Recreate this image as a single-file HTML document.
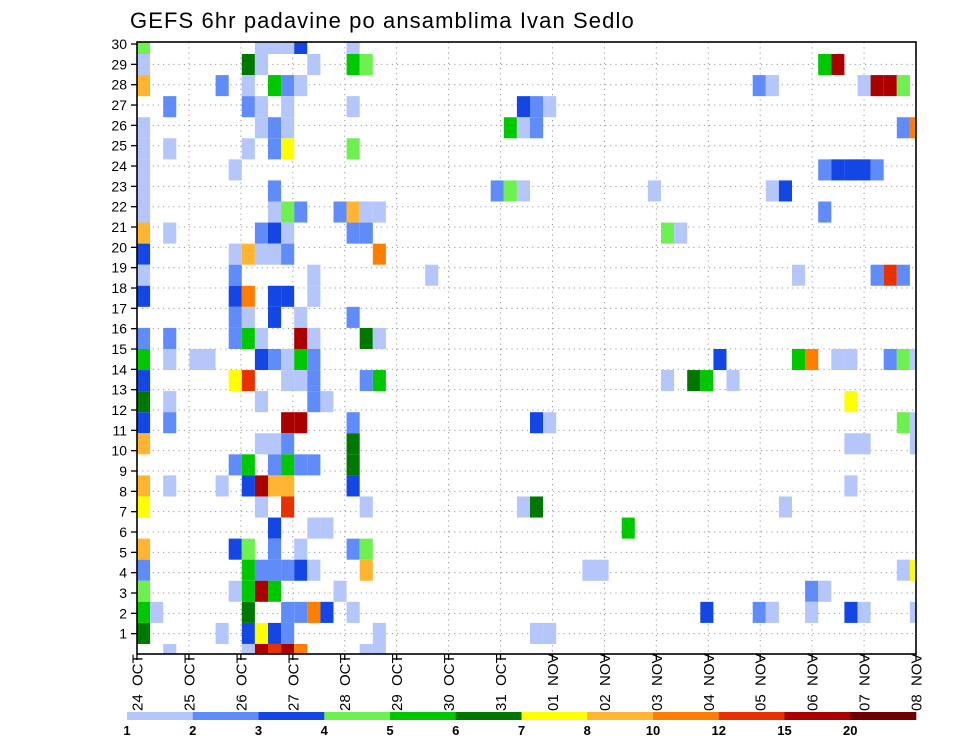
<!DOCTYPE html>
<html><head><meta charset="utf-8"><style>
html,body{margin:0;padding:0;background:#fff;}
svg{display:block;font-family:"Liberation Sans",sans-serif;}
</style></head><body>
<svg id="chart" width="960" height="742" viewBox="0 0 960 742" xmlns="http://www.w3.org/2000/svg">
<text x="130" y="28" font-size="22" letter-spacing="1.1" fill="#000">GEFS 6hr padavine po ansamblima Ivan Sedlo</text>
<g id="grid"></g>
<g id="cells"></g>
<rect x="137" y="42" width="779" height="612" fill="none" stroke="#000" stroke-width="1.6"/>
<g id="yaxis"></g>
<g id="xaxis"></g>
<g id="legend"></g>
</svg>
<script>
// ---- data ----
const dateLabels = ["24 OCT","25 OCT","26 OCT","27 OCT","28 OCT","29 OCT","30 OCT","31 OCT","01 NOV","02 NOV","03 NOV","04 NOV","05 NOV","06 NOV","07 NOV","08 NOV"];
const memberTicks = [1,2,3,4,5,6,7,8,9,10,11,12,13,14,15,16,17,18,19,20,21,22,23,24,25,26,27,28,29,30];
const levelLabels = ["1","2","3","4","5","6","7","8","10","12","15","20"];
const levelBounds = [1,2,3,4,5,6,7,8,10,12,15,20];
const levelColors = ["#b4c6fa","#5f8cf8","#1446e6","#6ef050","#00c800","#007800","#ffff00","#ffb432","#ff7d00","#e63200","#aa0000","#6e0000"];
// each cell: 6-hour step index, ensemble member index, precipitation (mm)
const cellStep = [
0,9,10,11,12,16,
0,8,9,13,16,17,52,53,
0,6,8,10,11,12,47,48,55,56,57,58,
2,8,9,11,16,29,30,31,
0,9,10,11,28,29,30,58,59,
0,2,8,10,11,16,
0,7,52,53,54,55,56,
0,10,27,28,29,39,48,49,
0,10,11,12,15,16,17,18,52,
0,2,9,10,11,16,17,40,41,
0,7,8,9,10,11,18,
0,7,13,22,50,56,57,58,
0,7,8,10,11,13,
7,8,10,12,16,
0,2,7,8,9,12,13,17,18,
0,2,4,5,9,10,11,12,13,44,50,51,53,54,57,58,59,
0,7,8,11,12,13,17,18,40,42,43,45,
0,2,9,13,14,54,
0,2,11,12,16,30,31,58,59,
0,9,10,11,16,54,55,59,
7,8,10,11,12,13,16,
0,2,6,8,9,10,11,16,54,
0,9,11,17,29,30,49,
10,13,14,37,
0,7,8,10,12,16,17,
0,8,9,10,11,12,13,17,34,35,58,59,
0,7,8,9,10,15,51,52,
0,1,8,11,12,13,14,16,43,47,48,51,54,55,59,
0,6,8,9,10,11,18,30,31,
2,8,9,10,11,12,17,18];
const cellMember = [
29,29,29,29,29,29,
28,28,28,28,28,28,28,28,
27,27,27,27,27,27,27,27,27,27,27,27,
26,26,26,26,26,26,26,26,
25,25,25,25,25,25,25,25,25,
24,24,24,24,24,24,
23,23,23,23,23,23,23,
22,22,22,22,22,22,22,22,
21,21,21,21,21,21,21,21,21,
20,20,20,20,20,20,20,20,20,
19,19,19,19,19,19,19,
18,18,18,18,18,18,18,18,
17,17,17,17,17,17,
16,16,16,16,16,
15,15,15,15,15,15,15,15,15,
14,14,14,14,14,14,14,14,14,14,14,14,14,14,14,14,14,
13,13,13,13,13,13,13,13,13,13,13,13,
12,12,12,12,12,12,
11,11,11,11,11,11,11,11,11,
10,10,10,10,10,10,10,10,
9,9,9,9,9,9,9,
8,8,8,8,8,8,8,8,8,
7,7,7,7,7,7,7,
6,6,6,6,
5,5,5,5,5,5,5,
4,4,4,4,4,4,4,4,4,4,4,4,
3,3,3,3,3,3,3,3,
2,2,2,2,2,2,2,2,2,2,2,2,2,2,2,
1,1,1,1,1,1,1,1,1,
0,0,0,0,0,0,0,0];
const cellPrecip = [
4.5,1.5,1.5,1.5,3.5,1.5,
1.5,6.5,1.5,1.5,5.5,4.5,5.5,17,
9,2.5,1.5,5.5,2.5,1.5,2.5,1.5,1.5,17,17,4.5,
2.5,2.5,1.5,1.5,1.5,3.5,2.5,1.5,
1.5,1.5,2.5,1.5,5.5,1.5,2.5,2.5,11,
1.5,1.5,1.5,2.5,7.5,4.5,
1.5,1.5,2.5,3.5,3.5,3.5,2.5,
1.5,2.5,2.5,4.5,1.5,1.5,1.5,3.5,
1.5,1.5,4.5,2.5,2.5,9,1.5,1.5,2.5,
9,1.5,2.5,3.5,1.5,2.5,2.5,4.5,1.5,
3.5,1.5,9,1.5,1.5,2.5,11,
1.5,2.5,1.5,1.5,1.5,2.5,13.5,2.5,
3.5,3.5,11,3.5,3.5,1.5,
2.5,1.5,3.5,1.5,2.5,
2.5,2.5,2.5,5.5,1.5,17,1.5,6.5,1.5,
5.5,1.5,1.5,1.5,3.5,2.5,1.5,5.5,2.5,3.5,5.5,11,1.5,1.5,2.5,4.5,1.5,
3.5,7.5,13.5,1.5,1.5,2.5,2.5,5.5,1.5,6.5,5.5,1.5,
6.5,1.5,1.5,2.5,1.5,7.5,
3.5,2.5,17,17,2.5,3.5,1.5,4.5,1.5,
9,1.5,1.5,2.5,6.5,1.5,1.5,1.5,
2.5,5.5,2.5,5.5,2.5,2.5,6.5,
9,1.5,1.5,3.5,17,9,9,3.5,1.5,
7.5,1.5,13.5,1.5,1.5,6.5,1.5,
3.5,1.5,1.5,5.5,
9,3.5,4.5,2.5,1.5,2.5,4.5,
2.5,5.5,2.5,2.5,2.5,3.5,1.5,9,1.5,1.5,1.5,7.5,
4.5,1.5,5.5,17,5.5,1.5,2.5,1.5,
5.5,1.5,6.5,2.5,2.5,11,3.5,1.5,3.5,2.5,1.5,1.5,3.5,1.5,1.5,
6.5,1.5,3.5,7.5,3.5,2.5,1.5,1.5,1.5,
1.5,1.5,17,13.5,17,11,1.5,1.5];

// ---- scales ----
const PL=137, PR=916, PT=42, PB=654;
const NS="http://www.w3.org/2000/svg";
const stepW = 13.1;          // cell width per 6-hour step
const memH = 21.07;          // cell height per member
function stepX(i){ return PL + i*stepW; }
function memberY(j){ return 654.5 - j*memH; }       // cell center
function dayX(d){ return PL + d*(PR-PL)/(dateLabels.length-1); }
function tickY(m){ return PB - m*(PB-PT)/30.1; }
function colorFor(v){
  let k=-1;
  for(let i=0;i<levelBounds.length;i++){ if(v>=levelBounds[i]) k=i; }
  return k<0?null:levelColors[k];
}
function mk(tag, attrs, parent){
  const e=document.createElementNS(NS,tag);
  for(const a in attrs) e.setAttribute(a, attrs[a]);
  parent.appendChild(e); return e;
}

// grid
const grid=document.getElementById('grid');
for(let d=1; d<dateLabels.length-1; d++){
  const l=mk('line',{x1:dayX(d),x2:dayX(d),y1:PT,y2:PB,stroke:'#9a9a9a','stroke-width':1,'stroke-dasharray':'1.2,4'},grid);
  
  
}
memberTicks.forEach(m=>{
  if(m===30) return;
  const l=mk('line',{x1:PL,x2:PR,y1:tickY(m),y2:tickY(m),stroke:'#9a9a9a','stroke-width':1,'stroke-dasharray':'1.2,4'},grid);
  
  
});

// cells
const cells=document.getElementById('cells');
for(let n=0;n<cellPrecip.length;n++){
  const c=colorFor(cellPrecip[n]); if(!c) continue;
  let x0=stepX(cellStep[n]), x1=stepX(cellStep[n]+1);
  let y0=memberY(cellMember[n])-memH/2, y1=memberY(cellMember[n])+memH/2;
  x0=Math.max(x0,PL); x1=Math.min(x1,PR); y0=Math.max(y0,PT); y1=Math.min(y1,PB);
  if(x1<=x0||y1<=y0) continue;
  const r=mk('rect',{x:x0.toFixed(2),y:y0.toFixed(2),width:(x1-x0).toFixed(2),height:(y1-y0).toFixed(2),fill:c},cells);
  
  
}

// y axis
const ya=document.getElementById('yaxis');
memberTicks.forEach(m=>{
  const y=tickY(m);
  const t=mk('line',{x1:PL-6,x2:PL,y1:y,y2:y,stroke:'#000','stroke-width':1.3},ya);
  
  
  const tx=mk('text',{x:PL-10,y:y+5,'font-size':14,'text-anchor':'end',fill:'#000'},ya);
  tx.textContent=String(m);
  
  
});

// x axis
const xa=document.getElementById('xaxis');
dateLabels.forEach((lab,d)=>{
  const x=dayX(d);
  const t=mk('line',{x1:x,x2:x,y1:PB,y2:PB+6,stroke:'#000','stroke-width':1.3},xa);
  
  
  const tx=mk('text',{x:0,y:0,'font-size':15,fill:'#000',transform:`translate(${x+5.5},711) rotate(-90)`,style:'white-space:pre'},xa);
  tx.textContent=lab.replace(' ','  ');
  
  
});

// legend
const lg=document.getElementById('legend');
const LX0=127, LX1=916, segW=(LX1-LX0)/levelColors.length;
levelColors.forEach((c,i)=>{
  const r=mk('rect',{x:LX0+i*segW,y:712,width:segW+0.3,height:8,fill:c},lg);
  
  
});
levelLabels.forEach((s,i)=>{
  const t=mk('text',{x:LX0+i*segW,y:735,'font-size':13,'font-weight':'bold','text-anchor':'middle',fill:'#000'},lg);
  t.textContent=s;
  
  
});
</script>
</body></html>
